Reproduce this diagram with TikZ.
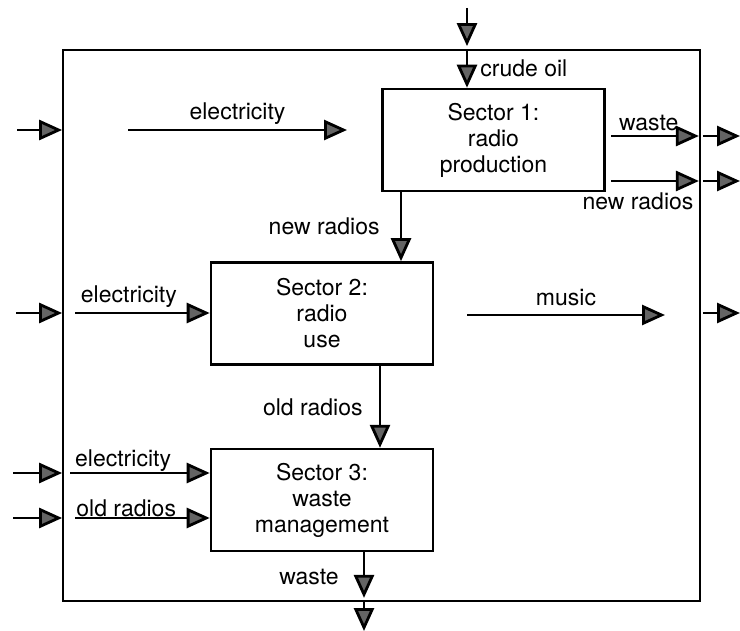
\documentclass[tikz,border=0pt]{standalone}
\usepackage{fontspec}
\setmainfont{TeX Gyre Heros}
\usetikzlibrary{arrows.meta, positioning, calc}
\definecolor{headgray}{RGB}{100,100,100}

\begin{document}
\begin{tikzpicture}[
    x=0.5pt, y=-0.5pt,
    sector/.style={draw, line width=1.3pt, minimum width=111pt, minimum height=51pt, align=center, font=\fontsize{11.5}{13}\selectfont, inner sep=0pt},
    flow/.style={-{Triangle[length=11.5pt, width=10pt, fill=headgray]}, line width=1.4pt},
    lbl/.style={font=\fontsize{11.5}{13}\selectfont, inner sep=2pt},
  ]
  \useasboundingbox (0,0) rectangle (740,631);
  % system border
  \node[draw, line width=0.9pt, minimum width=318.5pt, minimum height=275.5pt] (system) at (381.5,325.5) {};
  % sectors
  \node[sector] (s1) at (493.5,140) {Sector 1:\\radio\\production};
  \node[sector] (s2) at (322,313.5) {Sector 2:\\radio\\use};
  \node[sector, below=41pt of s2] (s3) {Sector 3:\\waste\\management};
  % free ends
  \coordinate (co) at (467,8);
  \coordinate (el1) at (17,130);
  \coordinate (el1a) at (128,130);
  \coordinate (el1b) at (347,130);
  \coordinate (w1a) at (611,136);
  \coordinate (w1o) at (740,136);
  \coordinate (nr1a) at (611,181);
  \coordinate (nr1o) at (740,181);
  \coordinate (nrx) at (401,0);
  \coordinate (el2) at (16,313);
  \coordinate (el2a) at (75,313);
  \coordinate (mu) at (467,315);
  \coordinate (mub) at (665,315);
  \coordinate (muo) at (740,313);
  \coordinate (orx) at (380,0);
  \coordinate (el3) at (13,473);
  \coordinate (el3a) at (70,473);
  \coordinate (or3) at (13,518);
  \coordinate (or3a) at (75,518);
  \coordinate (wx) at (364,0);
  \coordinate (wo) at (364,631);
  % inputs
  \draw[flow, shorten >=1.5pt] (co) -- (co |- system.north);
  \draw[flow] (co |- system.north) -- node[lbl, right, xshift=4pt] {crude oil} (co |- s1.north);
  \draw[flow] (el1) -- (el1 -| system.west);
  \draw[flow] (el1a) -- node[lbl, above] {electricity} (el1b);
  \draw[flow] (el2) -- (el2 -| system.west);
  \draw[flow] (el2a) -- node[lbl, above, pos=0.4] {electricity} (el2a -| s2.west);
  \draw[flow] (el3) -- (el3 -| system.west);
  \draw[flow] (el3a) -- node[lbl, above, pos=0.38, yshift=-2pt] {electricity} (el3a -| s3.west);
  \draw[flow] (or3) -- (or3 -| system.west);
  \draw[flow] (or3a) -- node[lbl, above, pos=0.38, yshift=-2pt] {old radios} (or3a -| s3.west);
  % flows between sectors
  \draw[flow] (s1.south -| nrx) -- node[lbl, left, xshift=-8pt] {new radios} (s2.north -| nrx);
  \draw[flow] (s2.south -| orx) -- node[lbl, left, xshift=-6pt] {old radios} (s3.north -| orx);
  % outputs
  \draw[flow, shorten >=1pt] (w1a) -- node[lbl, above, pos=0.42] {waste} (w1a -| system.east);
  \draw[flow] ($(w1a -| system.east)+(2,0)$) -- (w1o);
  \draw[flow, shorten >=1pt] (nr1a) -- node[lbl, below, pos=0.3, yshift=-3pt] {new radios} (nr1a -| system.east);
  \draw[flow] ($(nr1a -| system.east)+(2,0)$) -- (nr1o);
  \draw[flow] (mu) -- node[lbl, above, yshift=2pt] {music} (mub);
  \draw[flow] ($(muo -| system.east)+(2,0)$) -- (muo);
  \draw[flow, shorten >=2pt] (s3.south -| wx) -- node[lbl, left, xshift=-10pt] {waste} (system.south -| wx);
  \draw[flow] (system.south -| wx) -- (wo);
\end{tikzpicture}
\end{document}
